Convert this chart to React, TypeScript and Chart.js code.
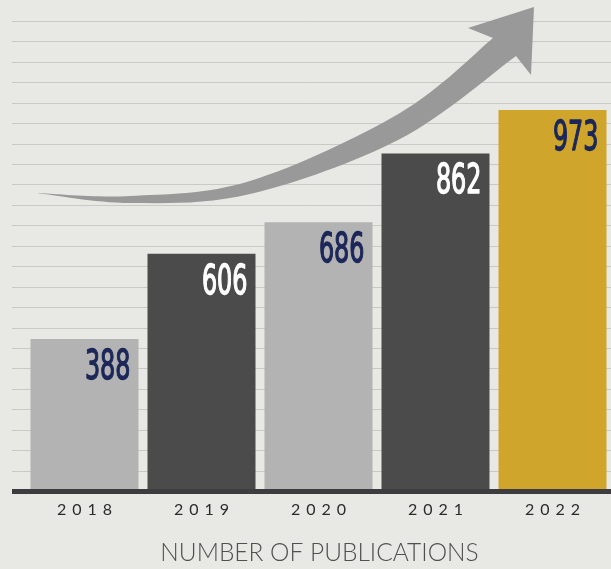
import React, { useEffect, useRef } from "react";
import { Chart, registerables } from "chart.js";

Chart.register(...registerables);

const years = ["2018", "2019", "2020", "2021", "2022"];
const publications = [388, 606, 686, 862, 973];
const barColors = ["#b3b3b3", "#4b4b4b", "#b3b3b3", "#4b4b4b", "#cfa62b"];
const labelColors = ["#1c2759", "#ffffff", "#1c2759", "#ffffff", "#1c2759"];
const titleText = "NUMBER OF PUBLICATIONS";
const yMax = 1200;
const gridIntervals = 23;

const BG = "#e8e9e4";
const GRID = "#c9cac5";
const AXIS = "#3d3d3f";
const ARROW = "#999999";

function smoothPath(ctx: CanvasRenderingContext2D, pts: number[][], moveFirst: boolean) {
  if (moveFirst) ctx.moveTo(pts[0][0], pts[0][1]);
  else ctx.lineTo(pts[0][0], pts[0][1]);
  for (let i = 0; i < pts.length - 1; i++) {
    const p0 = pts[i - 1] || pts[i];
    const p1 = pts[i];
    const p2 = pts[i + 1];
    const p3 = pts[i + 2] || p2;
    const t = 1 / 6;
    ctx.bezierCurveTo(
      p1[0] + (p2[0] - p0[0]) * t,
      p1[1] + (p2[1] - p0[1]) * t,
      p2[0] - (p3[0] - p1[0]) * t,
      p2[1] - (p3[1] - p1[1]) * t,
      p2[0],
      p2[1]
    );
  }
}

const decorPlugin = {
  id: "decor",
  beforeDraw(chart: any) {
    const { ctx, width, height } = chart;
    ctx.save();
    ctx.fillStyle = BG;
    ctx.fillRect(0, 0, width, height);
    ctx.restore();
  },
  beforeDatasetsDraw(chart: any) {
    const { ctx, chartArea, scales } = chart;
    const y = scales.y;
    const left = 12;
    ctx.save();
    ctx.strokeStyle = GRID;
    ctx.lineWidth = 1;
    for (let i = 1; i <= gridIntervals; i++) {
      const py = Math.round(y.getPixelForValue((yMax / gridIntervals) * i)) + 0.5;
      ctx.beginPath();
      ctx.moveTo(left, py);
      ctx.lineTo(chartArea.right, py);
      ctx.stroke();
    }
    // decorative growth arrow
    const upper = [
      [37, 193],
      [130, 196],
      [250, 181],
      [400, 113],
      [493, 38],
    ];
    const lower = [
      [516, 56],
      [400, 139],
      [250, 194],
      [130, 203],
      [37, 193],
    ];
    ctx.fillStyle = ARROW;
    ctx.beginPath();
    smoothPath(ctx, upper, true);
    ctx.lineTo(468, 28);
    ctx.lineTo(534, 7);
    ctx.lineTo(531, 75);
    smoothPath(ctx, lower, false);
    ctx.closePath();
    ctx.fill();
    ctx.restore();
  },
  afterDatasetsDraw(chart: any) {
    const { ctx, chartArea, scales } = chart;
    const meta = chart.getDatasetMeta(0);
    ctx.save();
    // axis line
    ctx.fillStyle = AXIS;
    const base = scales.y.getPixelForValue(0);
    ctx.fillRect(12, Math.round(base) - 2, chartArea.right - 12, 5);

    // value labels
    const family = '"Liberation Sans Narrow", "DejaVu Sans Condensed", sans-serif';
    ctx.font = `40px ${family}`;
    const adv = ctx.measureText("000").width / 3;
    const sx = 15.2 / adv;
    meta.data.forEach((bar: any, i: number) => {
      const right = bar.x + bar.width / 2 - 8;
      const top = bar.y;
      ctx.save();
      ctx.translate(right, top + 40);
      ctx.scale(sx, 1);
      ctx.fillStyle = labelColors[i];
      ctx.strokeStyle = labelColors[i];
      ctx.lineWidth = 1.3;
      ctx.lineJoin = "round";
      ctx.textAlign = "right";
      ctx.textBaseline = "alphabetic";
      ctx.fillText(String(publications[i]), 0, 0);
      ctx.strokeText(String(publications[i]), 0, 0);
      ctx.restore();
    });

    // x labels with letter spacing
    ctx.fillStyle = "#2b2b2b";
    ctx.font = '16px "Lato", "Open Sans", sans-serif';
    (ctx as any).letterSpacing = "6px";
    ctx.textAlign = "center";
    ctx.textBaseline = "alphabetic";
    const xs = scales.x;
    years.forEach((yr, i) => {
      const px = xs.getPixelForValue(i);
      ctx.fillText(yr, px + 3, 514.5);
    });
    (ctx as any).letterSpacing = "0px";

    // title
    ctx.fillStyle = "#505050";
    ctx.font = '300 24.5px "Lato", "Open Sans", sans-serif';
    ctx.textAlign = "center";
    ctx.fillText(titleText, (chartArea.left + chartArea.right) / 2 + 1, 561);
    ctx.restore();
  },
};

export default function App() {
  const ref = useRef<HTMLCanvasElement | null>(null);
  useEffect(() => {
    if (!ref.current) return;
    const chart = new Chart(ref.current, {
      type: "bar",
      data: {
        labels: years,
        datasets: [
          {
            data: publications,
            backgroundColor: barColors,
            borderWidth: 0,
            barPercentage: 0.923,
            categoryPercentage: 1,
          },
        ],
      },
      options: {
        animation: false,
        responsive: false,
        events: [],
        layout: { padding: { left: 26, right: 0, top: 21, bottom: 78 } },
        plugins: { legend: { display: false }, tooltip: { enabled: false }, title: { display: false } },
        scales: {
          x: { display: false, offset: true },
          y: { display: false, min: 0, max: yMax },
        },
      },
      plugins: [decorPlugin],
    });
    return () => chart.destroy();
  }, []);
  return (
    <div style={{ position: "fixed", left: 0, top: 0, width: 611, height: 569, background: BG }}>
      <canvas ref={ref} width={611} height={569} style={{ display: "block" }} />
    </div>
  );
}
